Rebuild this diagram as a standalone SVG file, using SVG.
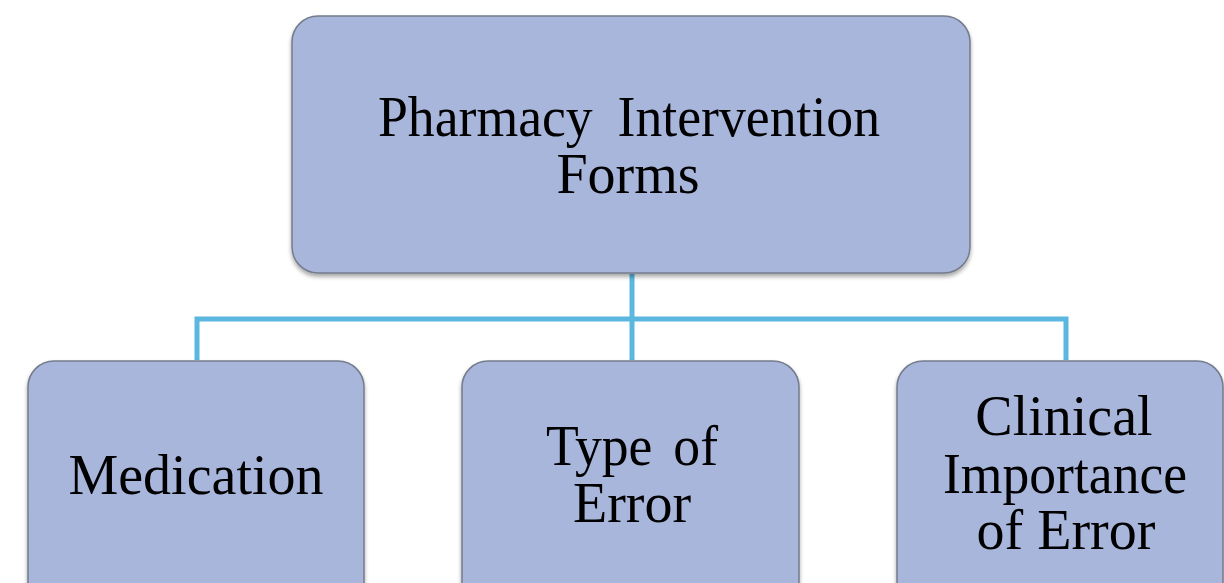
<svg xmlns="http://www.w3.org/2000/svg" width="1224" height="583" viewBox="0 0 1224 583">
<defs>
<filter id="sh" x="-5%" y="-5%" width="110%" height="115%">
<feGaussianBlur in="SourceAlpha" stdDeviation="2"/>
<feOffset dx="0" dy="3"/>
<feComponentTransfer><feFuncA type="linear" slope="0.35"/></feComponentTransfer>
<feMerge><feMergeNode/><feMergeNode in="SourceGraphic"/></feMerge>
</filter>
</defs>
<style>
.box{fill:#A8B6DB;stroke:#747B8C;stroke-width:1.5;filter:url(#sh)}
.t{font-family:"Liberation Serif","Times New Roman",serif;font-size:56px;fill:#000;text-anchor:middle}
.c{fill:none;stroke:#5BB7E0;stroke-width:5}
</style>
<rect width="1224" height="583" fill="#fff"/>
<g id="connectors">
<path class="c" d="M632 274 V360"/>
<path class="c" d="M197 360 V319 H1066 V360"/>
</g>
<g id="n-top">
<rect class="box" x="292" y="16" width="678" height="257" rx="26"/>
<text class="t" x="629" y="136" word-spacing="12" textLength="502" lengthAdjust="spacingAndGlyphs">Pharmacy Intervention</text>
<text class="t" x="628" y="193">Forms</text>
</g>
<g id="n-medication">
<rect class="box" x="28" y="361" width="336" height="250" rx="26"/>
<text class="t" x="196" y="494">Medication</text>
</g>
<g id="n-type">
<rect class="box" x="462" y="361" width="337" height="250" rx="26"/>
<text class="t" x="632" y="465" word-spacing="8" textLength="172" lengthAdjust="spacingAndGlyphs">Type of</text>
<text class="t" x="632" y="522">Error</text>
</g>
<g id="n-clinical">
<rect class="box" x="897" y="361" width="326" height="250" rx="26"/>
<text class="t" x="1064" y="435">Clinical</text>
<text class="t" x="1065" y="493" textLength="244" lengthAdjust="spacingAndGlyphs">Importance</text>
<text class="t" x="1066" y="549">of Error</text>
</g>
</svg>
